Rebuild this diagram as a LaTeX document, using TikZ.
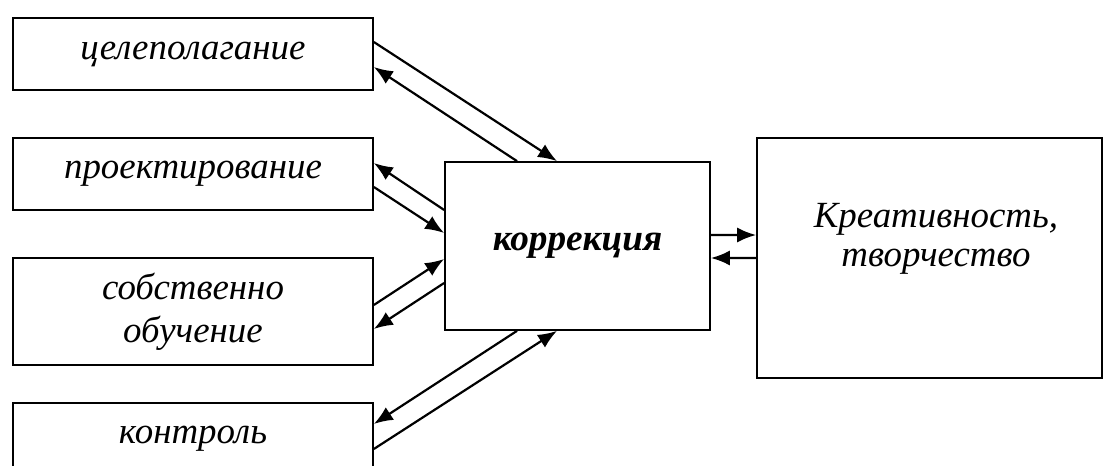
\documentclass[tikz,border=0pt]{standalone}
\usepackage{fontspec}
\setmainfont{Liberation Serif}
\usetikzlibrary{arrows.meta}
\tikzset{
  box/.style={draw,line width=1pt,minimum width=7.2cm,minimum height=1.44cm,
    align=center,font=\fontsize{21}{24.5}\selectfont\itshape},
  link/.style={-{Latex[length=3.8mm,width=3mm]},line width=1.25pt}
}
\begin{document}
\begin{tikzpicture}[x=0.02cm,y=-0.02cm]
  \useasboundingbox (0,0) rectangle (1103,466);
  \draw
    (193,54) node[box] (1){целеполагание}
    (193,174) node[box] (2){проектирование}
    (193,311.5) node[box,minimum height=2.14cm] (3){собственно\\обучение}
    (193,439) node[box] (4){контроль}
    (577.5,246) node[box,minimum width=5.3cm,minimum height=3.36cm,
      font=\fontsize{21.2}{24.5}\selectfont\bfseries\itshape] (c){коррекция}
    (929.5,258) node[box,minimum width=6.9cm,minimum height=4.8cm,
      label={[align=center,font=\fontsize{21}{22.5}\selectfont\itshape,
        xshift=0.13cm,yshift=0.38cm]center:Креативность,\\творчество}] (k){};
  \begin{scope}[link]
    \draw ([yshift=0.24cm]1.east) to ([xshift=-0.41cm]c.north);
    \draw ([xshift=-1.21cm]c.north) to ([yshift=-0.26cm]1.east);
    \draw ([yshift=0.72cm]c.west) to ([yshift=0.22cm]2.east);
    \draw ([yshift=-0.26cm]2.east) to ([yshift=0.26cm]c.west);
    \draw ([yshift=0.13cm]3.east) to ([yshift=-0.26cm]c.west);
    \draw ([yshift=-0.74cm]c.west) to ([yshift=-0.35cm]3.east);
    \draw ([xshift=-1.21cm]c.south) to ([yshift=0.3cm]4.east);
    \draw ([yshift=-0.2cm]4.east) to ([xshift=-0.41cm]c.south);
    \draw ([yshift=0.22cm]c.east) to ([yshift=0.46cm]k.west);
    \draw (k.west) to ([yshift=-0.24cm]c.east);
  \end{scope}
\end{tikzpicture}
\end{document}
